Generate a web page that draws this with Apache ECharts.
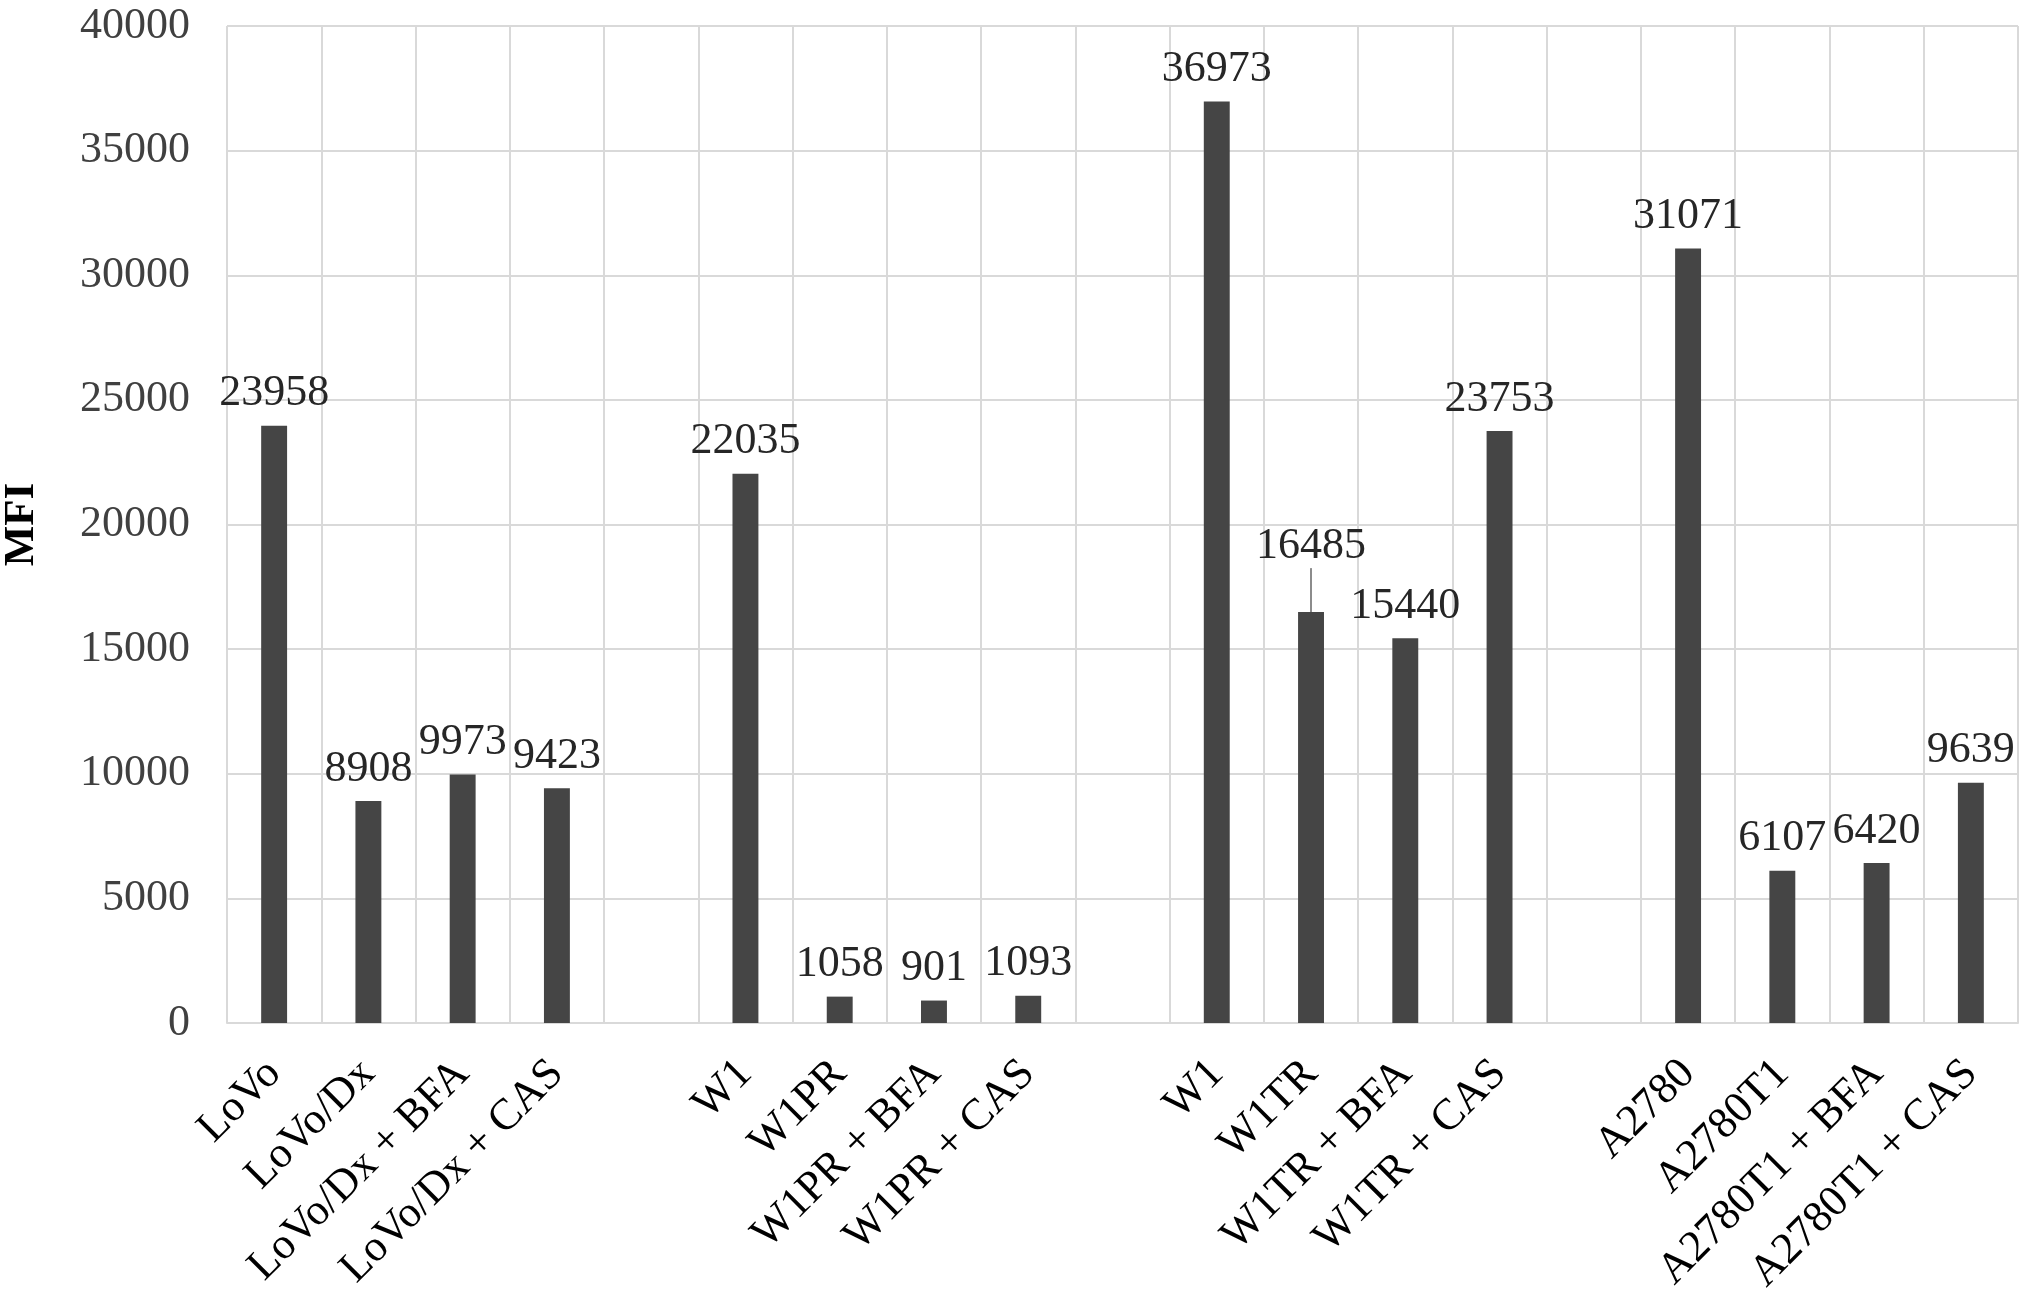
<!DOCTYPE html>
<html>
<head>
	<meta charset="utf-8">
	<title>MFI</title>
	<style>
		html, body { margin: 0; padding: 0; background: #fff; }
		#graph { width: 2031px; height: 1293px; }
	</style>
</head>
<body>
<div id="graph"></div>
<script type="text/javascript" src="https://cdn.jsdelivr.net/npm/echarts@6/dist/echarts.min.js"></script>
<script type="text/javascript">
	// categories, blank slots separate the four cell-line groups
	var categories = [
		'LoVo', 'LoVo/Dx', 'LoVo/Dx + BFA', 'LoVo/Dx + CAS', '',
		'W1', 'W1PR', 'W1PR + BFA', 'W1PR + CAS', '',
		'W1', 'W1TR', 'W1TR + BFA', 'W1TR + CAS', '',
		'A2780', 'A2780T1', 'A2780T1 + BFA', 'A2780T1 + CAS'
	];
	var mfi = [
		23958, 8908, 9973, 9423, null,
		22035, 1058, 901, 1093, null,
		36973, 16485, 15440, 23753, null,
		31071, 6107, 6420, 9639
	];
	var yTicks = [0, 5000, 10000, 15000, 20000, 25000, 30000, 35000, 40000];

	// label pushed up with a leader line (W1TR)
	var liftedIndex = 11;

	var font = 'Liberation Serif, Times New Roman, serif';
	var chart = echarts.init(document.getElementById('graph'));

	chart.setOption({
		animation: false,
		grid: { left: 227, right: 13, top: 26, bottom: 270, containLabel: false, outerBoundsMode: 'none' },
		xAxis: {
			type: 'category',
			data: categories,
			axisLine: { lineStyle: { color: '#d9d9d9', width: 2 } },
			axisTick: { show: false },
			splitLine: { show: true, interval: 0, lineStyle: { color: '#d9d9d9', width: 2 } },
			axisLabel: {
				interval: 0,
				rotate: 45,
				margin: 44,
				fontFamily: font,
				fontSize: 44,
				color: '#000'
			}
		},
		yAxis: {
			type: 'value',
			min: yTicks[0],
			max: yTicks[yTicks.length - 1],
			interval: 5000,
			name: 'MFI',
			nameLocation: 'middle',
			nameGap: 184,
			nameTextStyle: { fontFamily: font, fontSize: 43, fontWeight: 'bold', color: '#000' },
			axisLine: { show: false },
			axisTick: { show: false },
			splitLine: { lineStyle: { color: '#d9d9d9', width: 2 } },
			axisLabel: {
				margin: 37,
				fontFamily: font,
				fontSize: 44,
				color: '#404040',
				formatter: function (v) { return String(v); }
			}
		},
		series: [{
			type: 'bar',
			barWidth: '27.5%',
			itemStyle: { color: '#454545' },
			data: mfi.map(function (v, i) {
				if (i === liftedIndex) {
					return { value: v, labelLine: { show: true, lineStyle: { color: '#8c8c8c', width: 2 } } };
				}
				return v;
			}),
			label: {
				show: true,
				position: 'top',
				distance: 10,
				fontFamily: font,
				fontSize: 44,
				color: '#262626'
			},
			labelLayout: function (p) {
				return p.dataIndex === liftedIndex ? { dy: -34 } : {};
			}
		}]
	});
</script>
</body>
</html>
